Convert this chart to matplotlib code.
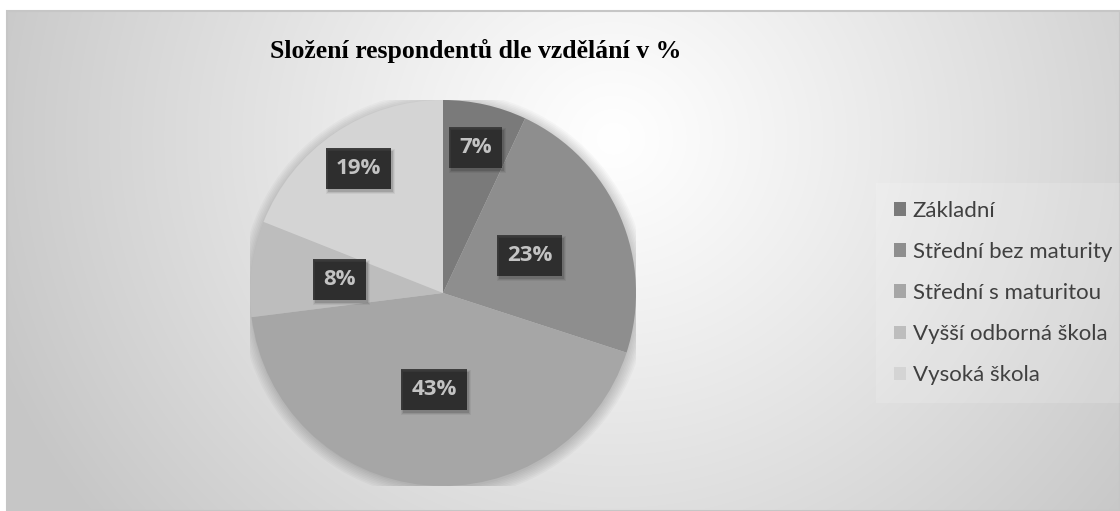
import matplotlib.pyplot as plt
import numpy as np
from matplotlib.patches import Rectangle, Circle, Patch

# data
categories = ['Základní', 'Střední bez maturity', 'Střední s maturitou',
              'Vyšší odborná škola', 'Vysoká škola']
shares = [7, 23, 43, 8, 19]
colors = ['#7a7a7a', '#8e8e8e', '#a6a6a6', '#bdbdbd', '#d4d4d4']
label_dist = [0.77, 0.49, 0.50, 0.54, 0.78]

plt.rcParams['hatch.linewidth'] = 1.6
plt.rcParams['hatch.color'] = '#585858'

W, H = 1120, 511
fig = plt.figure(figsize=(W / 100, H / 100), dpi=100)
fig.patch.set_facecolor('white')

# background: radial grey gradient inside a thin frame
bg = fig.add_axes([0, 0, 1, 1])
bg.axis('off')
yy, xx = np.mgrid[0:H, 0:W]
d = np.hypot(xx - 610, (yy - 130) * 1.05)
v = 1.0 - 0.22 * np.clip(d / 660, 0, 1) ** 1.1
img = np.dstack([v, v, v])
bg.imshow(img, extent=(7, W, H, 11), aspect='auto', zorder=0)
bg.add_patch(Rectangle((7, 11), W - 7, H - 11, fill=False, ec='#c6c6c6', lw=1.5, zorder=1))
bg.set_xlim(0, W)
bg.set_ylim(H, 0)

# title
fig.text(476 / W, 1 - 51 / H, 'Složení respondentů dle vzdělání v %', ha='center', va='center',
         fontsize=18.5, fontweight='bold', family='Liberation Serif', color='black')

# pie
cx, cy, r = 443, 293, 193
ax = fig.add_axes([(cx - r) / W, (H - cy - r) / H, 2 * r / W, 2 * r / H])

# soft shadow around the pie
for k in range(8):
    ax.add_patch(Circle((0.005, -0.01), 1.0 + 0.008 * k, color='black', alpha=0.025, lw=0, zorder=0))

wedges, _ = ax.pie(shares, colors=colors, startangle=90, counterclock=False, radius=1,
                   wedgeprops=dict(linewidth=0))
for w in wedges:
    w.set_zorder(2)
ax.set_xlim(-1, 1)
ax.set_ylim(-1, 1)
ax.axis('off')

labels = []
for w, val, rd in zip(wedges, shares, label_dist):
    ang = np.deg2rad((w.theta1 + w.theta2) / 2)
    x, y = rd * np.cos(ang), rd * np.sin(ang)
    t = ax.text(x, y, f'{val}%', ha='center', va='center', fontsize=16, fontweight='bold',
                family='Open Sans', color='white', zorder=4,
                bbox=dict(boxstyle='square,pad=0.45', fc='#3e3e3e', ec='#3e3e3e', lw=0, hatch='..'))
    labels.append(t)

# drop shadows under the label boxes
fig.canvas.draw()
for t in labels:
    bb = t.get_bbox_patch().get_window_extent()
    for k, a in enumerate([0.12, 0.08, 0.05]):
        fig.patches.append(Rectangle((bb.x0 + 2 - k, bb.y0 - 3 - k), bb.width + 2 * k, bb.height + 2 * k,
                                     transform=None, fc='black', ec='none', alpha=a, zorder=2.5))

# legend
handles = [Patch(facecolor=c, edgecolor='none') for c in colors]
leg = fig.legend(handles, categories, loc='center left', bbox_to_anchor=(876 / W, 1 - 293 / H),
                 frameon=True, fancybox=False, labelspacing=0.95, framealpha=0.15,
                 handlelength=0.55, handleheight=0.55, handletextpad=0.3,
                 borderpad=0.8, borderaxespad=0, prop=dict(family='Lato', size=16))
leg.get_frame().set_facecolor('white')
leg.get_frame().set_edgecolor('none')
for t in leg.get_texts():
    t.set_color('#404040')

fig.savefig('out.png', dpi=100)
